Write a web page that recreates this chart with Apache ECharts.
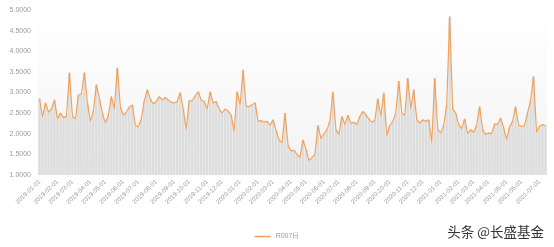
<!DOCTYPE html>
<html>
<head>
<meta charset="utf-8">
<script src="https://cdn.jsdelivr.net/npm/echarts@6/dist/echarts.min.js"></script>
<style>html,body{margin:0;padding:0;background:#fff}#c{width:554px;height:247px}</style>
</head>
<body>
<div id="c"></div>
<script>
// R007 daily values, sampled evenly from 2019-01-01 to mid-July 2021
const startDate = '2019-01-01';
const spanDays = 931;
const r007 = [
2.85,2.40,2.75,2.52,2.60,2.82,2.36,2.50,2.39,2.42,
3.48,2.42,2.36,2.94,2.97,3.48,2.75,2.30,2.55,3.19,
2.85,2.50,2.25,2.45,2.90,2.60,3.60,2.65,2.45,2.52,
2.65,2.70,2.20,2.17,2.35,2.80,3.07,2.84,2.72,2.78,
2.90,2.82,2.88,2.82,2.76,2.75,2.78,3.00,2.60,2.10,
2.80,2.80,2.92,3.02,2.82,2.78,2.60,3.02,2.74,2.78,
2.60,2.50,2.60,2.55,2.45,2.06,3.02,2.70,3.55,2.66,
2.66,2.70,2.75,2.30,2.32,2.28,2.30,2.20,2.34,2.08,
1.85,1.78,2.50,1.72,1.58,1.60,1.50,1.42,1.85,1.62,
1.35,1.42,1.50,2.20,1.88,2.00,2.10,2.30,3.02,2.10,
1.98,2.42,2.22,2.45,2.25,2.28,2.22,2.42,2.54,2.46,
2.36,2.28,2.32,2.85,2.42,2.99,1.95,2.20,2.30,2.50,
3.28,2.50,2.45,3.35,2.60,3.07,2.34,2.26,2.34,2.30,
2.34,1.78,3.35,2.10,2.02,2.20,2.70,4.84,2.60,2.50,
2.22,2.12,2.36,2.00,2.10,2.03,2.20,2.66,2.10,1.98,
2.02,2.00,2.24,2.22,2.38,2.15,1.86,2.16,2.30,2.66,
2.20,2.18,2.20,2.50,2.80,3.39,2.04,2.18,2.22,2.20
];
const yTicks = ['1.0000','1.5000','2.0000','2.5000','3.0000','3.5000','4.0000','4.5000','5.0000'];
const seriesName = 'R007日';

function pad(n){return (n<10?'0':'')+n;}
const base = new Date(startDate + 'T00:00:00Z');
const step = spanDays / r007.length;
const dates = r007.map((_, i) => {
  const d = new Date(base.getTime() + Math.round(i * step) * 86400000);
  return d.getUTCFullYear() + '-' + pad(d.getUTCMonth()+1) + '-' + pad(d.getUTCDate());
});
const showLabel = dates.map((d, i) => i === 0 || d.slice(0,7) !== dates[i-1].slice(0,7));

const chart = echarts.init(document.getElementById('c'), null, {renderer:'canvas'});
chart.setOption({
  animation: false,
  backgroundColor: '#fff',
  grid: {
    left: 38, right: 7, top: 10, bottom: 72,
    show: true, borderWidth: 0,
    backgroundColor: new echarts.graphic.LinearGradient(0,0,0,1,[{offset:0,color:'#ffffff'},{offset:1,color:'#f3f3f3'}])
  },
  legend: {
    data: [{name: seriesName, icon: 'rect'}], bottom: 2, left: 'center',
    itemWidth: 16, itemHeight: 1.6, itemGap: 4,
    textStyle: {color:'#999', fontSize: 7, fontFamily:'Liberation Sans'}
  },
  xAxis: {
    type: 'category', data: dates, boundaryGap: true,
    axisLine: {show:false}, axisTick: {show:false},
    axisLabel: {
      interval: (i) => showLabel[i],
      rotate: 44, margin: 6, fontSize: 6.2, color: '#9a9a9a', fontFamily:'Liberation Sans',
      formatter: (v) => v.slice(0,7) + '-01'
    }
  },
  yAxis: {
    type: 'value', min: 1, max: 5, interval: 0.5,
    splitLine: {show:false}, axisLine:{show:false}, axisTick:{show:false},
    axisLabel: {fontSize: 7, color:'#9a9a9a', margin: 7, fontFamily:'Liberation Sans',
      formatter: (v) => yTicks[Math.round((v-1)/0.5)] }
  },
  series: [
    {type:'bar', name:'bar', data: r007, barCategoryGap:'15%', itemStyle:{color:'#dddddd'}, z:1, silent:true},
    {type:'line', name: seriesName, data: r007, symbol:'none', z:3,
     lineStyle:{color:'#f0a35e', width:1.2}, itemStyle:{color:'#f0a35e'}}
  ],
  graphic: [
    {type:'text', right: 9, bottom: 7, z: 100,
     style:{text:'头条 @长盛基金', fill:'#333', fontSize: 13.5, fontFamily:'Noto Sans CJK SC',
            stroke:'#fff', lineWidth: 2}}
  ]
});
</script>
</body>
</html>
